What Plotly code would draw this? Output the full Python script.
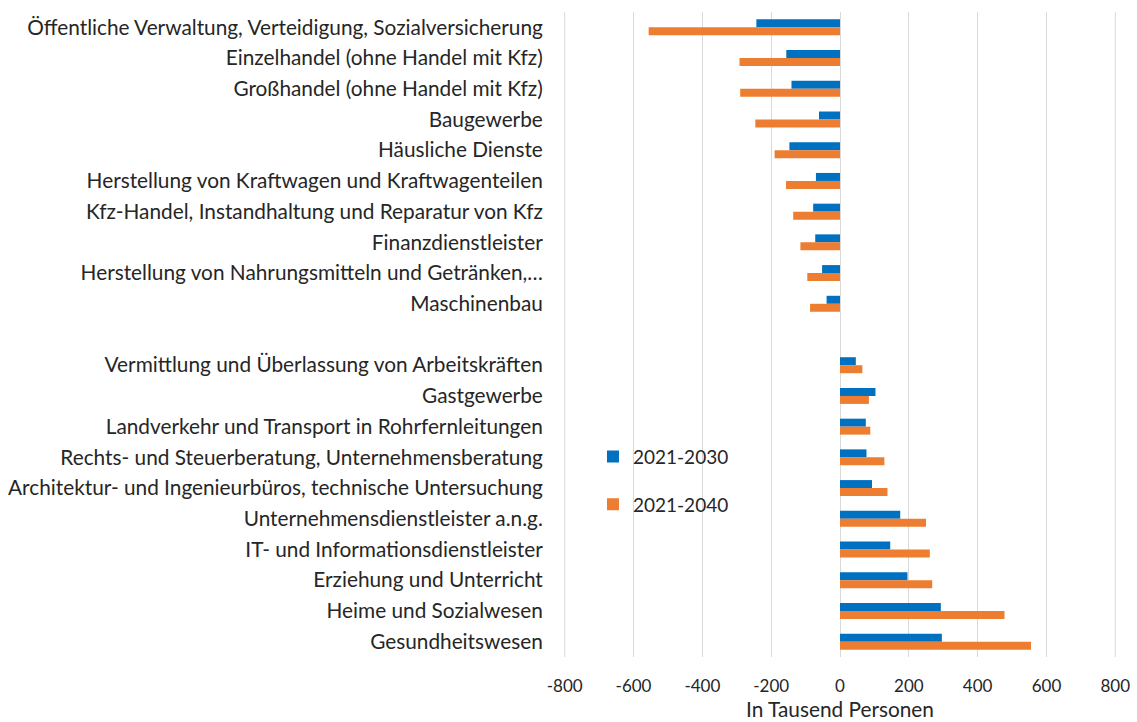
import plotly.graph_objects as go

categories = [
    "Öffentliche Verwaltung, Verteidigung, Sozialversicherung",
    "Einzelhandel (ohne Handel mit Kfz)",
    "Großhandel (ohne Handel mit Kfz)",
    "Baugewerbe",
    "Häusliche Dienste",
    "Herstellung von Kraftwagen und Kraftwagenteilen",
    "Kfz-Handel, Instandhaltung und Reparatur von Kfz",
    "Finanzdienstleister",
    "Herstellung von Nahrungsmitteln und Getränken,…",
    "Maschinenbau",
    " ",
    "Vermittlung und Überlassung von Arbeitskräften",
    "Gastgewerbe",
    "Landverkehr und Transport in Rohrfernleitungen",
    "Rechts- und Steuerberatung, Unternehmensberatung",
    "Architektur- und Ingenieurbüros, technische Untersuchung",
    "Unternehmensdienstleister a.n.g.",
    "IT- und Informationsdienstleister",
    "Erziehung und Unterricht",
    "Heime und Sozialwesen",
    "Gesundheitswesen",
]

values_2030 = [-243, -156, -141, -61, -147, -70, -78, -72, -52, -39, None,
               46, 103, 75, 77, 93, 175, 146, 196, 293, 296]
values_2040 = [-556, -292, -290, -246, -190, -157, -136, -115, -95, -87, None,
               65, 84, 88, 129, 138, 250, 261, 268, 478, 555]

series_names = ["2021-2030", "2021-2040"]
colors = ["#0070C0", "#ED7D31"]
x_ticks = [-800, -600, -400, -200, 0, 200, 400, 600, 800]

font_family = "Lato, 'Open Sans', sans-serif"
text_color = "#262626"
grid_color = "#D9D9D9"
fsize = 20.8
tick_size = 17
legend_size = 19

fig = go.Figure()
for name, vals, col in zip(series_names, [values_2030, values_2040], colors):
    fig.add_trace(go.Bar(
        y=categories, x=vals, name=name, orientation="h",
        marker=dict(color=col, line=dict(width=0)),
        legendgroup=name,
    ))

# edge gridlines (plotly hides gridlines at the plot edges)
for xv in (x_ticks[0], x_ticks[-1]):
    fig.add_shape(type="line", xref="x", yref="paper", x0=xv, x1=xv, y0=0, y1=1,
                  line=dict(color=grid_color, width=1), layer="below")

fig.update_layout(
    width=1137, height=722,
    barmode="group", bargap=0.48, bargroupgap=0,
    plot_bgcolor="white", paper_bgcolor="white",
    margin=dict(l=564, r=21, t=12, b=65),
    font=dict(family=font_family, size=fsize, color=text_color),
    legend=dict(
        x=0.0525, y=0.34, xanchor="left", yanchor="top",
        bgcolor="rgba(0,0,0,0)", font=dict(size=legend_size, color=text_color),
        tracegroupgap=20, traceorder="grouped", itemwidth=30,
    ),
    showlegend=True,
)
fig.update_xaxes(
    range=[-802, 802], tickvals=x_ticks, ticktext=[str(v) for v in x_ticks],
    showgrid=True, gridcolor=grid_color, gridwidth=1,
    zeroline=False, showline=False, automargin=False,
    ticks="outside", ticklen=14, tickcolor="rgba(0,0,0,0)",
    tickfont=dict(size=tick_size, color=text_color),
    title=dict(text="In Tausend Personen", font=dict(size=fsize, color=text_color), standoff=7),
)
fig.update_yaxes(
    type="category", categoryorder="array", categoryarray=categories,
    autorange="reversed", showgrid=False, zeroline=False, showline=False,
    automargin=False,
    ticks="outside", ticklen=16, tickcolor="rgba(0,0,0,0)",
    tickfont=dict(size=fsize, color=text_color),
)

fig.write_html("out.html", config={"displayModeBar": False},
               post_script="document.body.style.margin='0';")
